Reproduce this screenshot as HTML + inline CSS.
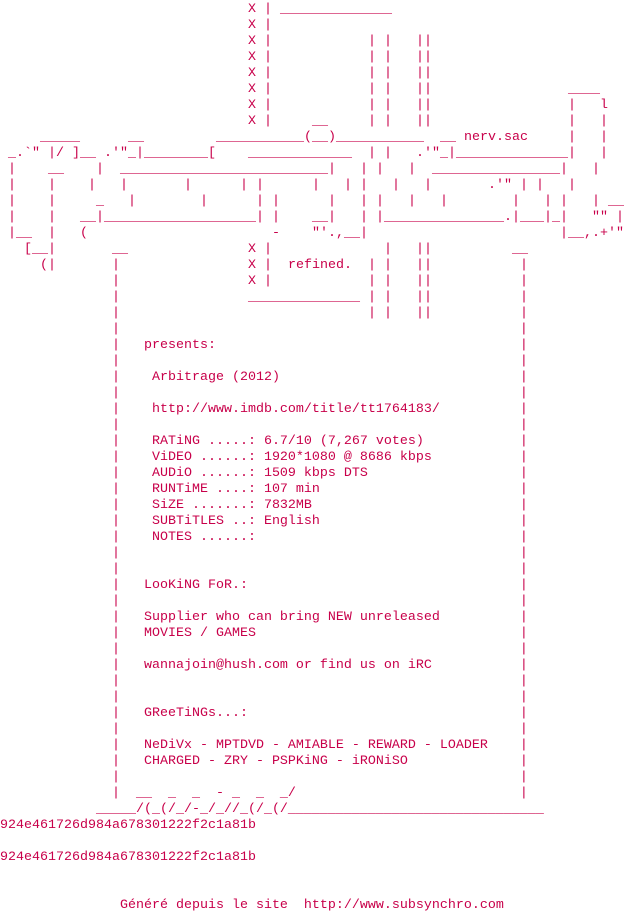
<!DOCTYPE html>
<html><head><meta charset="utf-8"><style>
html,body{margin:0;padding:0;background:#fff;width:624px;height:912px;overflow:hidden}
#c{position:relative;top:2px;width:624px;height:910px;font-family:"Liberation Mono",monospace;font-size:13.333px;line-height:16px;color:#c8004a}
#c span{position:absolute;white-space:pre}
</style></head><body><div id="c">
<span style="left:248px;top:0px">X |</span><span style="left:280px;top:0px">______________</span>
<span style="left:248px;top:16px">X |</span>
<span style="left:248px;top:32px">X |</span><span style="left:368px;top:32px">| |</span><span style="left:416px;top:32px">||</span>
<span style="left:248px;top:48px">X |</span><span style="left:368px;top:48px">| |</span><span style="left:416px;top:48px">||</span>
<span style="left:248px;top:64px">X |</span><span style="left:368px;top:64px">| |</span><span style="left:416px;top:64px">||</span>
<span style="left:248px;top:80px">X |</span><span style="left:368px;top:80px">| |</span><span style="left:416px;top:80px">||</span><span style="left:568px;top:80px">____</span>
<span style="left:248px;top:96px">X |</span><span style="left:368px;top:96px">| |</span><span style="left:416px;top:96px">||</span><span style="left:568px;top:96px">|   l</span>
<span style="left:248px;top:112px">X |</span><span style="left:312px;top:112px">__</span><span style="left:368px;top:112px">| |</span><span style="left:416px;top:112px">||</span><span style="left:568px;top:112px">|   |</span>

<span style="left:40px;top:128px">_____</span><span style="left:128px;top:128px">__</span><span style="left:216px;top:128px">___________(__)___________</span><span style="left:440px;top:128px">__</span><span style="left:464px;top:128px">nerv.sac</span><span style="left:568px;top:128px">|   |</span>

<span style="left:8px;top:144px">_.`"</span><span style="left:48px;top:144px">|/</span><span style="left:72px;top:144px">]__</span><span style="left:104px;top:144px">.'"_|________[</span><span style="left:248px;top:144px">_____________</span><span style="left:368px;top:144px">| |</span><span style="left:416px;top:144px">.'"_|______________</span><span style="left:568px;top:144px">|   |</span>

<span style="left:8px;top:160px">|</span><span style="left:48px;top:160px">__</span><span style="left:96px;top:160px">|</span><span style="left:120px;top:160px">__________________________</span><span style="left:328px;top:160px">|</span><span style="left:360px;top:160px">| |</span><span style="left:408px;top:160px">|</span><span style="left:432px;top:160px">________________</span><span style="left:560px;top:160px">|</span><span style="left:592px;top:160px">|</span>

<span style="left:8px;top:176px">|</span><span style="left:48px;top:176px">|</span><span style="left:88px;top:176px">|</span><span style="left:120px;top:176px">|</span><span style="left:184px;top:176px">|</span><span style="left:240px;top:176px">| |</span><span style="left:312px;top:176px">|</span><span style="left:344px;top:176px">|</span><span style="left:360px;top:176px">|</span><span style="left:392px;top:176px">|</span><span style="left:424px;top:176px">|</span><span style="left:488px;top:176px">.'"</span><span style="left:520px;top:176px">| |</span><span style="left:568px;top:176px">|</span>

<span style="left:8px;top:192px">|</span><span style="left:48px;top:192px">|</span><span style="left:96px;top:192px">_</span><span style="left:128px;top:192px">|</span><span style="left:200px;top:192px">|</span><span style="left:256px;top:192px">| |</span><span style="left:328px;top:192px">|</span><span style="left:360px;top:192px">| |</span><span style="left:408px;top:192px">|</span><span style="left:440px;top:192px">|</span><span style="left:512px;top:192px">|</span><span style="left:544px;top:192px">| |</span><span style="left:592px;top:192px">|</span><span style="left:608px;top:192px">__</span>

<span style="left:8px;top:208px">|</span><span style="left:48px;top:208px">|</span><span style="left:80px;top:208px">__|___________________| |</span><span style="left:312px;top:208px">__|</span><span style="left:360px;top:208px">| |_______________.|___|_|</span><span style="left:592px;top:208px">""</span><span style="left:616px;top:208px">|</span>

<span style="left:8px;top:224px">|__</span><span style="left:48px;top:224px">|</span><span style="left:80px;top:224px">(</span><span style="left:272px;top:224px">-</span><span style="left:312px;top:224px">"'.,__|</span><span style="left:560px;top:224px">|__,.+'"</span>

<span style="left:24px;top:240px">[__|</span><span style="left:112px;top:240px">__</span><span style="left:248px;top:240px">X |</span><span style="left:384px;top:240px">|</span><span style="left:416px;top:240px">||</span><span style="left:512px;top:240px">__</span>
<span style="left:40px;top:256px">(|</span><span style="left:112px;top:256px">|</span><span style="left:248px;top:256px">X |</span><span style="left:288px;top:256px">refined.</span><span style="left:368px;top:256px">| |</span><span style="left:416px;top:256px">||</span><span style="left:520px;top:256px">|</span>
<span style="left:112px;top:272px">|</span><span style="left:248px;top:272px">X |</span><span style="left:368px;top:272px">| |</span><span style="left:416px;top:272px">||</span><span style="left:520px;top:272px">|</span>
<span style="left:112px;top:288px">|</span><span style="left:248px;top:288px">______________</span><span style="left:368px;top:288px">| |</span><span style="left:416px;top:288px">||</span><span style="left:520px;top:288px">|</span>
<span style="left:112px;top:304px">|</span><span style="left:368px;top:304px">| |</span><span style="left:416px;top:304px">||</span><span style="left:520px;top:304px">|</span>

<span style="left:0px;top:320px">              |                                                  |</span>
<span style="left:0px;top:336px">              |   presents:                                      |</span>
<span style="left:0px;top:352px">              |                                                  |</span>
<span style="left:0px;top:368px">              |    Arbitrage (2012)                              |</span>
<span style="left:0px;top:384px">              |                                                  |</span>
<span style="left:0px;top:400px">              |    http://www.imdb.com/title/tt1764183/          |</span>
<span style="left:0px;top:416px">              |                                                  |</span>
<span style="left:0px;top:432px">              |    RATiNG .....: 6.7/10 (7,267 votes)            |</span>
<span style="left:0px;top:448px">              |    ViDEO ......: 1920*1080 @ 8686 kbps           |</span>
<span style="left:0px;top:464px">              |    AUDiO ......: 1509 kbps DTS                   |</span>
<span style="left:0px;top:480px">              |    RUNTiME ....: 107 min                         |</span>
<span style="left:0px;top:496px">              |    SiZE .......: 7832MB                          |</span>
<span style="left:0px;top:512px">              |    SUBTiTLES ..: English                         |</span>
<span style="left:0px;top:528px">              |    NOTES ......:                                 |</span>
<span style="left:0px;top:544px">              |                                                  |</span>
<span style="left:0px;top:560px">              |                                                  |</span>
<span style="left:0px;top:576px">              |   LooKiNG FoR.:                                  |</span>
<span style="left:0px;top:592px">              |                                                  |</span>
<span style="left:0px;top:608px">              |   Supplier who can bring NEW unreleased          |</span>
<span style="left:0px;top:624px">              |   MOVIES / GAMES                                 |</span>
<span style="left:0px;top:640px">              |                                                  |</span>
<span style="left:0px;top:656px">              |   wannajoin@hush.com or find us on iRC           |</span>
<span style="left:0px;top:672px">              |                                                  |</span>
<span style="left:0px;top:688px">              |                                                  |</span>
<span style="left:0px;top:704px">              |   GReeTiNGs...:                                  |</span>
<span style="left:0px;top:720px">              |                                                  |</span>
<span style="left:0px;top:736px">              |   NeDiVx - MPTDVD - AMIABLE - REWARD - LOADER    |</span>
<span style="left:0px;top:752px">              |   CHARGED - ZRY - PSPKiNG - iRONiSO              |</span>
<span style="left:0px;top:768px">              |                                                  |</span>
<span style="left:0px;top:784px">              |  __  _  _  - _  _  _/                            |</span>
<span style="left:0px;top:800px">            _____/(_(/_/-_/_//_(/_(/________________________________</span>
<span style="left:0px;top:816px">924e461726d984a678301222f2c1a81b</span>
<span style="left:0px;top:848px">924e461726d984a678301222f2c1a81b</span>
<span style="left:0px;top:896px">               Généré depuis le site  http://www.subsynchro.com</span>
</div></body></html>
